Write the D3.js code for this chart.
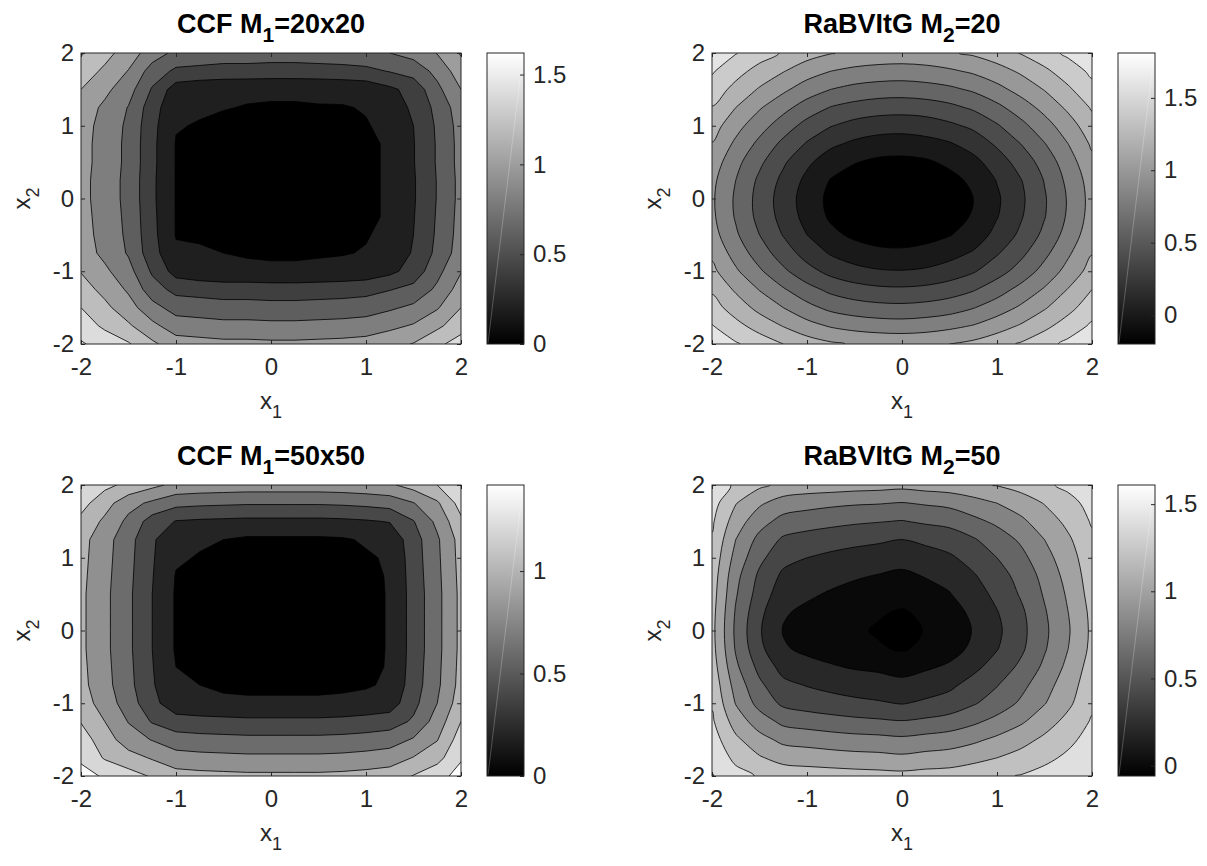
<!DOCTYPE html>
<html>
<head>
<meta charset="utf-8">
<script src="https://cdn.jsdelivr.net/npm/d3@7"></script>
<style>
  body { margin: 0; background: #fff; }
  svg text { font-family: "Liberation Sans", Arial, Helvetica, sans-serif; fill: #262626; }
  svg text.title { fill: #000; font-weight: bold; font-size: 27px; }
  svg text.lbl { font-size: 24px; }
  .tick text { font-size: 24px; }
</style>
</head>
<body>
<svg id="chart" width="1207" height="866"></svg>
<script>
// grid nodes along x1 and x2 (same for all four panels)
const gridSteps = [-2, -1.75, -1.5, -1.25, -1, -0.75, -0.5, -0.25, 0, 0.25, 0.5, 0.75, 1, 1.25, 1.5, 1.75, 2];
const axisTicks = [-2, -1, 0, 1, 2];

// values, rows from x2 = 2 (top) down to x2 = -2
const ccf20Grid = [
  [1.42,1.27,1.10,0.90,0.75,0.73,0.71,0.71,0.70,0.70,0.71,0.72,0.74,0.80,0.87,1.01,1.22],
  [1.31,1.16,0.99,0.71,0.56,0.54,0.52,0.52,0.51,0.51,0.52,0.53,0.55,0.61,0.68,0.86,1.11],
  [1.20,1.05,0.88,0.58,0.30,0.26,0.25,0.24,0.24,0.24,0.24,0.25,0.27,0.36,0.47,0.75,1.00],
  [1.11,0.96,0.79,0.49,0.24,0.22,0.21,0.19,0.18,0.18,0.19,0.19,0.21,0.31,0.43,0.66,0.91],
  [1.08,0.93,0.76,0.46,0.21,0.19,0.15,0.15,0.14,0.14,0.15,0.16,0.19,0.24,0.40,0.63,0.88],
  [1.07,0.92,0.75,0.45,0.19,0.16,0.13,0.13,0.12,0.12,0.13,0.14,0.17,0.22,0.39,0.62,0.87],
  [1.07,0.92,0.75,0.45,0.19,0.16,0.13,0.12,0.11,0.11,0.12,0.14,0.17,0.22,0.39,0.62,0.87],
  [1.06,0.91,0.74,0.44,0.19,0.15,0.12,0.11,0.10,0.10,0.11,0.13,0.17,0.22,0.38,0.61,0.86],
  [1.06,0.91,0.74,0.44,0.19,0.15,0.12,0.11,0.10,0.10,0.11,0.13,0.17,0.22,0.38,0.61,0.86],
  [1.07,0.92,0.75,0.45,0.19,0.16,0.13,0.12,0.11,0.11,0.12,0.14,0.17,0.22,0.39,0.62,0.87],
  [1.08,0.93,0.76,0.46,0.19,0.17,0.14,0.14,0.13,0.13,0.14,0.15,0.19,0.24,0.40,0.63,0.88],
  [1.10,0.95,0.78,0.48,0.23,0.23,0.20,0.18,0.17,0.17,0.18,0.19,0.21,0.26,0.42,0.65,0.90],
  [1.19,1.04,0.87,0.57,0.32,0.27,0.25,0.25,0.24,0.24,0.25,0.26,0.28,0.35,0.48,0.74,0.99],
  [1.29,1.14,0.97,0.69,0.54,0.52,0.50,0.50,0.49,0.49,0.50,0.51,0.53,0.59,0.66,0.84,1.09],
  [1.40,1.25,1.08,0.87,0.72,0.70,0.68,0.68,0.67,0.67,0.68,0.69,0.71,0.77,0.84,0.98,1.20],
  [1.51,1.36,1.23,1.05,0.90,0.88,0.86,0.86,0.85,0.85,0.86,0.87,0.89,0.95,1.02,1.16,1.31],
  [1.62,1.53,1.42,1.24,1.09,1.07,1.05,1.05,1.04,1.04,1.05,1.06,1.08,1.14,1.21,1.35,1.50]
];
const rabv20Grid = [
  [1.74,1.61,1.49,1.38,1.28,1.21,1.16,1.14,1.13,1.14,1.18,1.23,1.31,1.41,1.52,1.64,1.76],
  [1.62,1.47,1.33,1.21,1.09,1.00,0.95,0.92,0.91,0.93,0.97,1.03,1.12,1.23,1.36,1.50,1.64],
  [1.51,1.34,1.18,1.04,0.90,0.80,0.74,0.71,0.70,0.72,0.76,0.83,0.94,1.07,1.21,1.37,1.54],
  [1.39,1.20,1.02,0.86,0.71,0.59,0.53,0.49,0.48,0.50,0.55,0.63,0.75,0.90,1.06,1.24,1.42],
  [1.29,1.07,0.88,0.70,0.53,0.41,0.33,0.29,0.28,0.30,0.36,0.44,0.58,0.74,0.92,1.11,1.32],
  [1.19,0.96,0.75,0.55,0.38,0.24,0.16,0.11,0.10,0.13,0.18,0.28,0.43,0.60,0.79,1.00,1.23],
  [1.11,0.86,0.64,0.43,0.24,0.09,0.01,-0.04,-0.05,-0.03,0.04,0.14,0.30,0.48,0.68,0.91,1.15],
  [1.05,0.80,0.56,0.35,0.15,-0.01,-0.09,-0.14,-0.16,-0.13,-0.06,0.04,0.21,0.39,0.61,0.85,1.09],
  [1.03,0.77,0.53,0.31,0.11,-0.05,-0.14,-0.19,-0.20,-0.17,-0.10,0.00,0.17,0.36,0.58,0.82,1.07],
  [1.04,0.78,0.54,0.33,0.13,-0.03,-0.12,-0.17,-0.18,-0.15,-0.09,0.02,0.19,0.38,0.59,0.83,1.08],
  [1.08,0.83,0.60,0.39,0.20,0.05,-0.04,-0.09,-0.10,-0.07,-0.01,0.09,0.26,0.44,0.65,0.88,1.12],
  [1.16,0.92,0.70,0.50,0.32,0.18,0.10,0.05,0.04,0.07,0.13,0.22,0.38,0.55,0.75,0.97,1.19],
  [1.25,1.03,0.83,0.64,0.47,0.34,0.26,0.22,0.21,0.23,0.29,0.38,0.52,0.68,0.87,1.07,1.28],
  [1.37,1.17,0.99,0.82,0.67,0.55,0.48,0.44,0.43,0.45,0.50,0.58,0.71,0.86,1.02,1.21,1.40],
  [1.48,1.31,1.14,1.00,0.86,0.75,0.69,0.66,0.65,0.67,0.71,0.79,0.90,1.03,1.18,1.34,1.51],
  [1.61,1.46,1.32,1.19,1.07,0.98,0.93,0.90,0.89,0.91,0.95,1.01,1.11,1.22,1.35,1.49,1.63],
  [1.75,1.62,1.51,1.40,1.30,1.23,1.18,1.16,1.15,1.16,1.20,1.25,1.33,1.42,1.53,1.65,1.77]
];
const ccf50Grid = [
  [1.40,1.25,1.15,1.05,0.95,0.93,0.92,0.91,0.91,0.91,0.91,0.92,0.94,0.97,1.08,1.20,1.41],
  [1.27,1.08,0.87,0.76,0.66,0.64,0.63,0.62,0.62,0.62,0.62,0.63,0.65,0.68,0.79,0.97,1.28],
  [1.15,0.96,0.75,0.51,0.39,0.37,0.36,0.35,0.35,0.35,0.35,0.36,0.38,0.41,0.59,0.85,1.16],
  [1.07,0.88,0.67,0.43,0.24,0.22,0.20,0.17,0.17,0.17,0.17,0.18,0.22,0.26,0.51,0.77,1.08],
  [1.06,0.87,0.66,0.42,0.22,0.19,0.15,0.14,0.14,0.14,0.14,0.15,0.18,0.22,0.50,0.76,1.07],
  [1.05,0.86,0.65,0.41,0.19,0.15,0.13,0.12,0.12,0.12,0.12,0.14,0.17,0.21,0.49,0.75,1.06],
  [1.04,0.85,0.64,0.40,0.18,0.14,0.12,0.11,0.11,0.11,0.11,0.13,0.16,0.21,0.48,0.74,1.05],
  [1.04,0.85,0.64,0.40,0.18,0.14,0.12,0.11,0.10,0.10,0.11,0.13,0.16,0.21,0.48,0.74,1.05],
  [1.04,0.85,0.64,0.40,0.18,0.14,0.12,0.11,0.10,0.10,0.11,0.13,0.16,0.21,0.48,0.74,1.05],
  [1.04,0.85,0.64,0.40,0.18,0.14,0.12,0.11,0.11,0.11,0.11,0.13,0.16,0.21,0.48,0.74,1.05],
  [1.05,0.86,0.65,0.41,0.20,0.15,0.13,0.12,0.12,0.12,0.12,0.14,0.17,0.21,0.49,0.75,1.06],
  [1.06,0.87,0.66,0.42,0.24,0.20,0.16,0.15,0.15,0.15,0.15,0.16,0.18,0.23,0.50,0.76,1.07],
  [1.10,0.91,0.70,0.46,0.28,0.26,0.25,0.24,0.24,0.24,0.24,0.25,0.27,0.30,0.54,0.80,1.11],
  [1.19,1.00,0.79,0.58,0.48,0.46,0.45,0.44,0.44,0.44,0.44,0.45,0.47,0.50,0.63,0.89,1.20],
  [1.29,1.10,0.89,0.79,0.69,0.67,0.66,0.65,0.65,0.65,0.65,0.66,0.68,0.71,0.82,0.99,1.30],
  [1.37,1.18,1.08,0.98,0.88,0.86,0.85,0.84,0.84,0.84,0.84,0.85,0.87,0.90,1.01,1.13,1.38],
  [1.46,1.38,1.28,1.18,1.08,1.06,1.05,1.04,1.04,1.04,1.04,1.05,1.07,1.10,1.21,1.33,1.47]
];
const rabv50Grid = [
  [1.55,1.36,1.24,1.15,1.12,1.11,1.09,1.08,1.06,1.09,1.11,1.16,1.21,1.28,1.36,1.45,1.55],
  [1.48,1.21,1.03,0.91,0.87,0.84,0.82,0.81,0.79,0.82,0.85,0.92,1.00,1.09,1.21,1.33,1.47],
  [1.43,1.10,0.88,0.73,0.69,0.66,0.63,0.61,0.59,0.63,0.66,0.75,0.84,0.96,1.10,1.25,1.42],
  [1.38,1.00,0.74,0.57,0.52,0.48,0.45,0.43,0.40,0.44,0.49,0.58,0.70,0.83,1.00,1.17,1.36],
  [1.34,0.93,0.65,0.46,0.40,0.36,0.33,0.30,0.27,0.32,0.37,0.47,0.60,0.74,0.93,1.11,1.33],
  [1.31,0.86,0.56,0.36,0.30,0.26,0.22,0.19,0.16,0.21,0.26,0.38,0.51,0.67,0.86,1.07,1.30],
  [1.29,0.82,0.51,0.29,0.23,0.18,0.14,0.12,0.08,0.13,0.19,0.31,0.45,0.62,0.82,1.03,1.28],
  [1.27,0.78,0.45,0.22,0.16,0.11,0.07,0.02,-0.02,0.04,0.12,0.24,0.39,0.56,0.78,1.00,1.25],
  [1.26,0.76,0.42,0.19,0.12,0.07,0.03,-0.02,-0.06,0.01,0.08,0.21,0.36,0.54,0.76,0.98,1.24],
  [1.27,0.78,0.45,0.22,0.16,0.11,0.07,0.02,-0.02,0.04,0.12,0.24,0.39,0.56,0.78,1.00,1.25],
  [1.30,0.84,0.54,0.33,0.26,0.22,0.18,0.16,0.12,0.17,0.23,0.35,0.48,0.64,0.84,1.05,1.29],
  [1.34,0.92,0.64,0.45,0.39,0.35,0.32,0.29,0.26,0.31,0.36,0.47,0.59,0.74,0.92,1.11,1.32],
  [1.38,0.99,0.73,0.56,0.51,0.47,0.44,0.42,0.39,0.43,0.48,0.58,0.69,0.83,0.99,1.16,1.36],
  [1.43,1.11,0.90,0.75,0.71,0.68,0.65,0.63,0.61,0.64,0.68,0.76,0.86,0.97,1.11,1.26,1.42],
  [1.49,1.24,1.07,0.95,0.92,0.89,0.87,0.86,0.84,0.87,0.90,0.96,1.04,1.13,1.24,1.35,1.48],
  [1.55,1.35,1.22,1.13,1.11,1.09,1.07,1.06,1.04,1.07,1.09,1.14,1.20,1.27,1.35,1.44,1.54],
  [1.61,1.47,1.38,1.32,1.30,1.29,1.28,1.27,1.26,1.28,1.29,1.33,1.37,1.41,1.47,1.53,1.60]
];

// contour levels
const ccf20Levels = [0.2, 0.4, 0.6, 0.8, 1.0, 1.2, 1.4, 1.6];
const rabv20Levels = [0, 0.2, 0.4, 0.6, 0.8, 1.0, 1.2, 1.4, 1.6];
const ccf50Levels = [0.2, 0.4, 0.6, 0.8, 1.0, 1.2, 1.4];
const rabv50Levels = [0, 0.2, 0.4, 0.6, 0.8, 1.0, 1.2, 1.4, 1.6];

// colour limits and colorbar ticks
const ccf20Range = [0, 1.62];
const rabv20Range = [-0.2, 1.81];
const ccf50Range = [0, 1.42];
const rabv50Range = [-0.06, 1.61];
const ccf20BarTicks = [0, 0.5, 1, 1.5];
const rabv20BarTicks = [0, 0.5, 1, 1.5];
const ccf50BarTicks = [0, 0.5, 1];
const rabv50BarTicks = [0, 0.5, 1, 1.5];

const axW = 380, axH = 291, cbGap = 26, cbW = 37;
const panels = [
  {head: "CCF M", sub: "1", tail: "=20x20", grid: ccf20Grid, levels: ccf20Levels, range: ccf20Range, barTicks: ccf20BarTicks, left: 81, top: 53, smooth: false},
  {head: "RaBVItG M", sub: "2", tail: "=20", grid: rabv20Grid, levels: rabv20Levels, range: rabv20Range, barTicks: rabv20BarTicks, left: 712, top: 53, smooth: true},
  {head: "CCF M", sub: "1", tail: "=50x50", grid: ccf50Grid, levels: ccf50Levels, range: ccf50Range, barTicks: ccf50BarTicks, left: 81, top: 485, smooth: false},
  {head: "RaBVItG M", sub: "2", tail: "=50", grid: rabv50Grid, levels: rabv50Levels, range: rabv50Range, barTicks: rabv50BarTicks, left: 712, top: 485, smooth: true}
];

const svg = d3.select("#chart");
const defs = svg.append("defs");
const grad = defs.append("linearGradient").attr("id", "cbGrad")
    .attr("x1", 0).attr("y1", 1).attr("x2", 0).attr("y2", 0);
grad.append("stop").attr("offset", "0%").attr("stop-color", "#000");
grad.append("stop").attr("offset", "100%").attr("stop-color", "#fff");

const smoothLine = d3.line().curve(d3.curveCatmullRomClosed.alpha(0.5));

function addSubLabel(sel, head, sub, tail, subSize, drop) {
    sel.append("tspan").text(head);
    sel.append("tspan").attr("font-size", subSize).attr("dy", drop).text(sub);
    if (tail) sel.append("tspan").attr("dy", -drop).text(tail);
}

function drawPanel(p, idx) {
    const g = svg.append("g");
    const right = p.left + axW, bottom = p.top + axH;
    const x = d3.scaleLinear().domain([-2, 2]).range([p.left, right]);
    const y = d3.scaleLinear().domain([-2, 2]).range([bottom, p.top]);
    const n = gridSteps.length;
    // contour coordinates: node k sits at k + 0.5
    const gx = d3.scaleLinear().domain([0.5, n - 0.5]).range([x(gridSteps[0]), x(gridSteps[n - 1])]);
    const gy = d3.scaleLinear().domain([0.5, n - 0.5]).range([y(gridSteps[n - 1]), y(gridSteps[0])]);
    const color = d3.scaleLinear().domain(p.range).range(["#000000", "#ffffff"]).clamp(true);

    const contours = d3.contours().size([n, n]).thresholds(p.levels)(p.grid.flat());

    const ringD = ring => {
        let pts = ring.map(([a, b]) => [gx(a), gy(b)]);
        const f = pts[0], l = pts[pts.length - 1];
        if (f[0] === l[0] && f[1] === l[1]) pts = pts.slice(0, -1);
        return p.smooth ? smoothLine(pts) : "M" + pts.map(q => q.join(",")).join("L") + "Z";
    };
    const multiD = coords => coords.map(poly => poly.map(ringD).join("")).join("");

    svg.select("defs").append("clipPath").attr("id", "clip" + idx)
        .append("rect").attr("x", p.left).attr("y", p.top).attr("width", axW).attr("height", axH);

    const plot = g.append("g").attr("clip-path", `url(#clip${idx})`);
    plot.append("rect").attr("x", p.left).attr("y", p.top).attr("width", axW).attr("height", axH)
        .attr("fill", color(p.range[0]));
    plot.selectAll("path.band").data(contours).join("path")
        .attr("class", "band")
        .attr("d", d => multiD(d.coordinates))
        .attr("fill", d => color(d.value))
        .attr("fill-rule", "evenodd");
    plot.selectAll("path.iso").data(contours).join("path")
        .attr("class", "iso")
        .attr("d", d => multiD(d.coordinates))
        .attr("fill", "none")
        .attr("stroke", "#000")
        .attr("stroke-width", 0.8);

    // axes, ticks inward on all four sides
    const fmt = d => String(d);
    const xb = g.append("g").attr("transform", `translate(0,${bottom})`)
        .call(d3.axisBottom(x).tickValues(axisTicks).tickSizeInner(-4).tickSizeOuter(0).tickPadding(14).tickFormat(fmt));
    const yl = g.append("g").attr("transform", `translate(${p.left},0)`)
        .call(d3.axisLeft(y).tickValues(axisTicks).tickSizeInner(-4).tickSizeOuter(0).tickPadding(7).tickFormat(fmt));
    const xt = g.append("g").attr("transform", `translate(0,${p.top})`)
        .call(d3.axisTop(x).tickValues(axisTicks).tickSizeInner(-4).tickSizeOuter(0).tickFormat(""));
    const yr = g.append("g").attr("transform", `translate(${right},0)`)
        .call(d3.axisRight(y).tickValues(axisTicks).tickSizeInner(-4).tickSizeOuter(0).tickFormat(""));
    [xb, yl, xt, yr].forEach(a => {
        a.style("color", "#262626").attr("font-family", null).attr("font-size", null);
        a.select(".domain").remove();
    });
    g.append("rect").attr("x", p.left).attr("y", p.top).attr("width", axW).attr("height", axH)
        .attr("fill", "none").attr("stroke", "#262626").attr("stroke-width", 1);

    // title and axis labels
    const title = g.append("text").attr("class", "title")
        .attr("x", (p.left + right) / 2).attr("y", p.top - 20).attr("text-anchor", "middle");
    addSubLabel(title, p.head, p.sub, p.tail, 21, 9);

    const xl = g.append("text").attr("class", "lbl")
        .attr("x", (p.left + right) / 2).attr("y", bottom + 65).attr("text-anchor", "middle");
    addSubLabel(xl, "x", "1", "", 18, 9);

    const ylab = g.append("text").attr("class", "lbl")
        .attr("transform", `translate(${p.left - 51},${(p.top + bottom) / 2}) rotate(-90)`)
        .attr("text-anchor", "middle");
    addSubLabel(ylab, "x", "2", "", 18, 9);

    // colorbar
    const cbL = right + cbGap, cbR = cbL + cbW;
    const cbScale = d3.scaleLinear().domain(p.range).range([bottom, p.top]);
    g.append("rect").attr("x", cbL).attr("y", p.top).attr("width", cbW).attr("height", axH)
        .attr("fill", "url(#cbGrad)");
    g.append("line").attr("x1", cbL + 1).attr("y1", bottom - 1).attr("x2", cbR - 1).attr("y2", p.top + 1)
        .attr("stroke", "#fff").attr("stroke-opacity", 0.35).attr("stroke-width", 0.7);
    const cb = g.append("g").attr("transform", `translate(${cbR},0)`)
        .call(d3.axisRight(cbScale).tickValues(p.barTicks).tickSizeInner(-4).tickSizeOuter(0).tickPadding(9).tickFormat(fmt));
    cb.style("color", "#262626").attr("font-family", null).attr("font-size", null);
    cb.select(".domain").remove();
    g.append("rect").attr("x", cbL).attr("y", p.top).attr("width", cbW).attr("height", axH)
        .attr("fill", "none").attr("stroke", "#262626").attr("stroke-width", 1);
}

panels.forEach(drawPanel);
</script>
</body>
</html>
